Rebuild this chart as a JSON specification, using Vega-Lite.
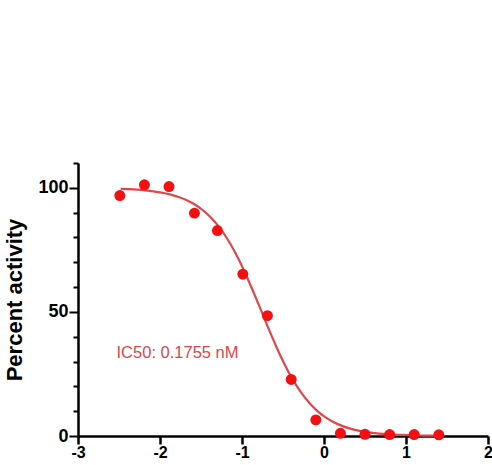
{
  "$schema": "https://vega.github.io/schema/vega-lite/v6.json",
  "autosize": "none",
  "width": 410,
  "height": 273,
  "padding": {"left": 78, "top": 163, "right": 4, "bottom": 29},
  "background": "white",
  "config": {"view": {"stroke": null}, "font": "Liberation Sans"},
  "datasets": {
    "points": [
      {"logc": -2.49, "activity": 96.9},
      {"logc": -2.19, "activity": 101.2},
      {"logc": -1.89, "activity": 100.5},
      {"logc": -1.58, "activity": 89.8},
      {"logc": -1.30, "activity": 82.8},
      {"logc": -0.99, "activity": 65.2},
      {"logc": -0.69, "activity": 48.5},
      {"logc": -0.40, "activity": 22.8},
      {"logc": -0.10, "activity": 6.5},
      {"logc": 0.20, "activity": 1.1},
      {"logc": 0.50, "activity": 0.7},
      {"logc": 0.80, "activity": 0.6},
      {"logc": 1.10, "activity": 0.6},
      {"logc": 1.40, "activity": 0.5}
    ],
    "curve": [
      {"logc": -2.48, "activity": 99.61},
      {"logc": -2.38, "activity": 99.46},
      {"logc": -2.28, "activity": 99.26},
      {"logc": -2.18, "activity": 98.98},
      {"logc": -2.08, "activity": 98.60},
      {"logc": -1.98, "activity": 98.08},
      {"logc": -1.88, "activity": 97.37},
      {"logc": -1.78, "activity": 96.40},
      {"logc": -1.68, "activity": 95.10},
      {"logc": -1.58, "activity": 93.36},
      {"logc": -1.48, "activity": 91.06},
      {"logc": -1.38, "activity": 88.07},
      {"logc": -1.28, "activity": 84.24},
      {"logc": -1.18, "activity": 79.48},
      {"logc": -1.08, "activity": 73.72},
      {"logc": -0.98, "activity": 67.02},
      {"logc": -0.88, "activity": 59.55},
      {"logc": -0.78, "activity": 51.61},
      {"logc": -0.68, "activity": 43.59},
      {"logc": -0.58, "activity": 35.89},
      {"logc": -0.48, "activity": 28.85},
      {"logc": -0.38, "activity": 22.71},
      {"logc": -0.28, "activity": 17.55},
      {"logc": -0.18, "activity": 13.36},
      {"logc": -0.08, "activity": 10.05},
      {"logc": 0.02, "activity": 7.49},
      {"logc": 0.12, "activity": 5.54},
      {"logc": 0.22, "activity": 4.07},
      {"logc": 0.32, "activity": 2.98},
      {"logc": 0.42, "activity": 2.18},
      {"logc": 0.52, "activity": 1.59},
      {"logc": 0.62, "activity": 1.16},
      {"logc": 0.72, "activity": 0.84},
      {"logc": 0.82, "activity": 0.61},
      {"logc": 0.92, "activity": 0.44},
      {"logc": 1.02, "activity": 0.32},
      {"logc": 1.12, "activity": 0.23},
      {"logc": 1.22, "activity": 0.17},
      {"logc": 1.32, "activity": 0.12},
      {"logc": 1.42, "activity": 0.09}
    ],
    "note": [
      {"logc": -2.53, "activity": 33.4, "label": "IC50: 0.1755 nM"}
    ]
  },
  "encoding": {
    "x": {
      "field": "logc", "type": "quantitative",
      "scale": {"domain": [-3, 2], "nice": false, "zero": false},
      "axis": {
        "title": null, "values": [-3, -2, -1, 0, 1, 2], "grid": false,
        "labelExpr": "replace(datum.label, '\u2212', '-')",
        "domainColor": "black", "domainWidth": 2.5, "tickColor": "black", "tickWidth": 2.5, "tickSize": 8,
        "labelFont": "Liberation Sans", "labelFontSize": 16, "labelFontWeight": "bold", "labelColor": "black",
        "labelPadding": 0, "labelFlush": false, "labelOverlap": false
      }
    },
    "y": {
      "field": "activity", "type": "quantitative",
      "scale": {"domain": [0, 110], "nice": false},
      "axis": {
        "title": "Percent activity", "values": [0, 10, 20, 30, 40, 50, 60, 70, 80, 90, 100, 110], "grid": false,
        "labelExpr": "datum.value == 0 || datum.value == 50 || datum.value == 100 ? datum.label : ''",
        "labelOverlap": false,
        "domainColor": "black", "domainWidth": 2.5, "tickColor": "black", "tickWidth": 2,
        "tickSize": {"condition": {"test": "datum.value == 0 || datum.value == 50 || datum.value == 100", "value": 9}, "value": 5},
        "labelFont": "Liberation Sans", "labelFontSize": 18, "labelFontWeight": "bold", "labelColor": "black",
        "labelPadding": 1,
        "titleFont": "Liberation Sans", "titleFontSize": 22, "titleFontWeight": "bold", "titleColor": "black",
        "titlePadding": 11
      }
    }
  },
  "layer": [
    {
      "data": {"name": "curve"},
      "mark": {"type": "line", "color": "#e0474a", "strokeWidth": 2.2, "interpolate": "monotone"}
    },
    {
      "data": {"name": "points"},
      "mark": {"type": "circle", "color": "#f41010", "opacity": 1, "size": 120}
    },
    {
      "data": {"name": "note"},
      "mark": {"type": "text", "align": "left", "baseline": "middle", "font": "Liberation Sans", "fontSize": 16.5, "color": "#d9474b"},
      "encoding": {
        "text": {"field": "label"}
      }
    }
  ]
}
